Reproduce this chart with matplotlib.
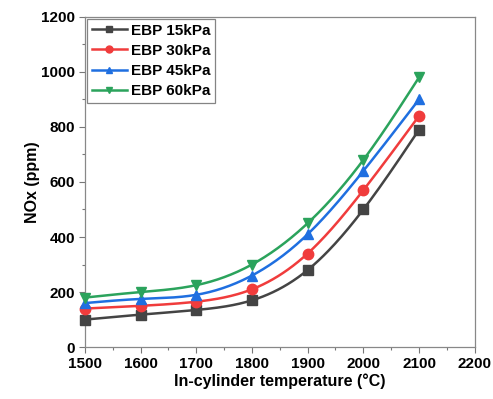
import numpy as np
import matplotlib
matplotlib.use("Agg")
import matplotlib.pyplot as plt

plt.rcParams["font.family"] = ["Liberation Sans", "DejaVu Sans"]
plt.rcParams["font.weight"] = "bold"

temps = [1500, 1600, 1700, 1800, 1900, 2000, 2100]
nox_15 = [100, 118, 135, 170, 280, 500, 790]
nox_30 = [140, 150, 165, 210, 340, 570, 840]
nox_45 = [160, 175, 190, 260, 410, 640, 900]
nox_60 = [180, 200, 225, 300, 450, 680, 980]

series = [
    ("EBP 15kPa", nox_15, "#444444", "s", 6.5),
    ("EBP 30kPa", nox_30, "#f03c3c", "o", 7.5),
    ("EBP 45kPa", nox_45, "#1f6fe0", "^", 7.5),
    ("EBP 60kPa", nox_60, "#2ba35c", "v", 7.5),
]


def spline(x, y, n=200):
    # natural cubic spline, just for the smooth line look
    x = np.asarray(x, float)
    y = np.asarray(y, float)
    k = len(x)
    h = np.diff(x)
    A = np.zeros((k, k))
    b = np.zeros(k)
    A[0, 0] = A[-1, -1] = 1
    for i in range(1, k - 1):
        A[i, i - 1] = h[i - 1]
        A[i, i] = 2 * (h[i - 1] + h[i])
        A[i, i + 1] = h[i]
        b[i] = 6 * ((y[i + 1] - y[i]) / h[i] - (y[i] - y[i - 1]) / h[i - 1])
    m = np.linalg.solve(A, b)
    xs = np.linspace(x[0], x[-1], n)
    idx = np.clip(np.searchsorted(x, xs) - 1, 0, k - 2)
    t0 = x[idx]
    t1 = x[idx + 1]
    hh = t1 - t0
    ys = (m[idx] * (t1 - xs) ** 3 / (6 * hh) + m[idx + 1] * (xs - t0) ** 3 / (6 * hh)
          + (y[idx] / hh - m[idx] * hh / 6) * (t1 - xs)
          + (y[idx + 1] / hh - m[idx + 1] * hh / 6) * (xs - t0))
    return xs, ys


fig = plt.figure(figsize=(4.93, 3.99), dpi=100)
ax = fig.add_axes([0.172, 0.130, 0.791, 0.828])

for label, vals, color, mk, ms in series:
    xs, ys = spline(temps, vals)
    ax.plot(xs, ys, color=color, lw=1.8)
    ax.plot(temps, vals, mk, color=color, ms=ms, clip_on=False, zorder=3)
    ax.plot([], [], color=color, marker=mk, ms=5, lw=1.8, label=label)

ax.set_xlim(1500, 2200)
ax.set_ylim(0, 1200)
ax.set_xticks(range(1500, 2201, 100))
ax.set_yticks(range(0, 1201, 200))
ax.set_xticks(range(1550, 2200, 100), minor=True)
ax.set_yticks(range(100, 1200, 200), minor=True)
ax.tick_params(labelsize=11, length=4, width=0.8, color="#777777", pad=3)
ax.tick_params(which="minor", length=2.5, width=0.8, color="#777777")
for s in ax.spines.values():
    s.set_color("#888888")
    s.set_linewidth(0.9)

ax.set_xlabel("In-cylinder temperature (°C)", fontsize=11.5, fontweight="bold", labelpad=2)
ax.set_ylabel("NOx (ppm)", fontsize=11.5, fontweight="bold", labelpad=1)

leg = ax.legend(loc="upper left", fontsize=11, frameon=True, fancybox=False,
                borderaxespad=0.15, handlelength=2.3, labelspacing=0.4,
                borderpad=0.3, handletextpad=0.25)
leg.get_frame().set_edgecolor("#666666")
leg.get_frame().set_linewidth(0.9)
for t in leg.get_texts():
    t.set_fontweight("bold")

fig.savefig("out.png", dpi=100)
